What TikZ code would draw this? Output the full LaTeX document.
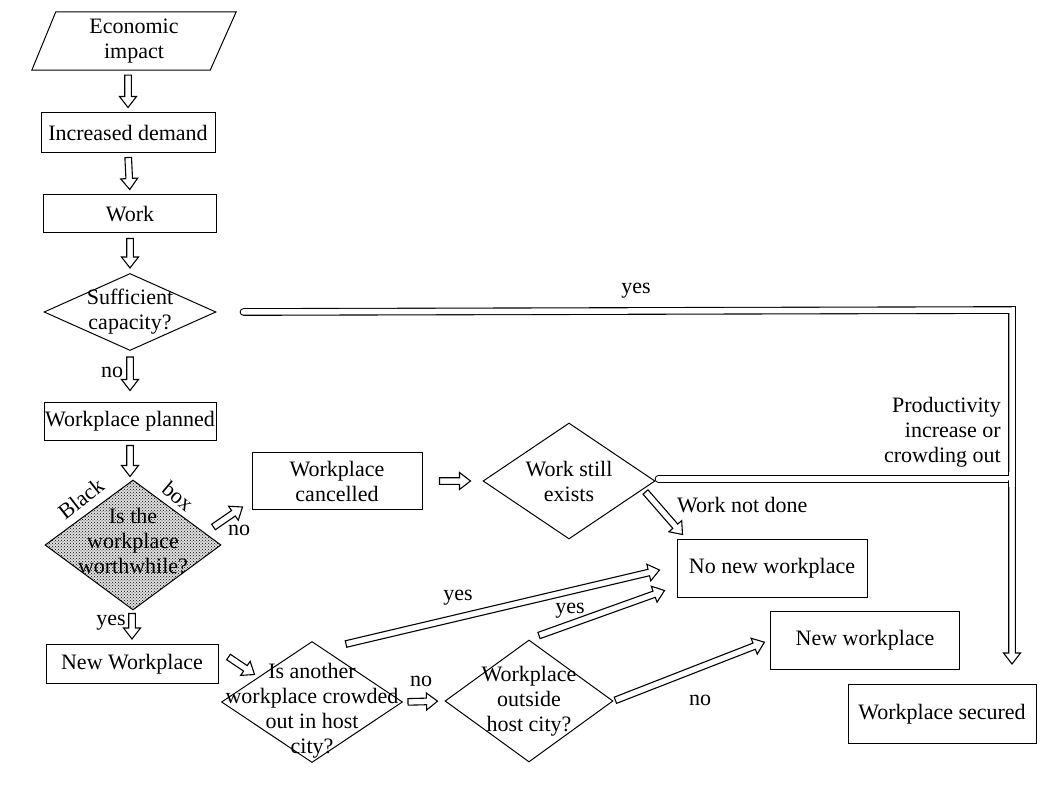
\documentclass[tikz,border=0pt]{standalone}
\usepackage{fontspec}
\setmainfont{Liberation Serif}
\usetikzlibrary{shapes.geometric,arrows.meta,patterns,calc}
\newcommand\blockarrow[2]{%
  \draw[barr] let \p1=(#1), \p2=(#2), \n1={atan2(\y2-\y1,\x2-\x1)} in
    ($(\p1)+({\n1+90}:3.3pt)$)
    -- ($(\p2)+({\n1+180}:11pt)+({\n1+90}:3.3pt)$)
    -- ($(\p2)+({\n1+180}:11pt)+({\n1+90}:8.5pt)$)
    -- (\p2)
    -- ($(\p2)+({\n1+180}:11pt)+({\n1-90}:8.5pt)$)
    -- ($(\p2)+({\n1+180}:11pt)+({\n1-90}:3.3pt)$)
    -- ($(\p1)+({\n1-90}:3.3pt)$) -- cycle;}
\begin{document}
\begin{tikzpicture}[x=1pt,y=-1pt,
  every node/.style={font=\fontsize{22}{25}\selectfont},
  box/.style={draw, line width=1pt, rectangle, inner sep=0pt, align=center},
  dia/.style={draw, line width=1pt, diamond, inner sep=0pt},
  barr/.style={draw, line width=1.1pt, fill=white, line join=miter},
  hline/.style={double, double distance=5.5pt, line width=1.1pt, line cap=round},
  lbl/.style={inner sep=1pt}
]
\useasboundingbox[fill=white] (0,0) rectangle (1054,791);
% left column
\node[minimum width=178pt, minimum height=58pt, inner sep=0pt, align=center] (econ) at (134,41) {Economic\\impact};
\draw[line width=1pt] ([xshift=11pt]econ.north west) -- ([xshift=13pt]econ.north east)
  -- ([xshift=-13pt]econ.south east) -- ([xshift=-13pt]econ.south west) -- cycle;
\node[box, minimum width=174pt, minimum height=40pt] (incr) at (128,133) {Increased demand};
\node[box, minimum width=173pt, minimum height=38pt] (work) at (130,214) {Work};
\node[dia, minimum width=172pt, minimum height=77pt,
  label={[align=center]center:Sufficient\\capacity?}] (suff) at (130,312) {};
\node[box, minimum width=172pt, minimum height=38pt] (planned) at (130,421) {Workplace planned};
\node[dia, minimum width=176pt, minimum height=130pt, preaction={fill=gray!25}, pattern=crosshatch dots,
  label={[align=center, yshift=4pt]center:Is the\\workplace\\worthwhile?}] (black) at (133,545) {};
\node[rotate=38, inner sep=0pt] (blk) at (81,499) {Black};
\node[rotate=-40, inner sep=0pt] (bx) at (178,496) {box};
\node[box, minimum width=172pt, minimum height=39pt] (newWP) at (132,664) {New Workplace};
% middle
\node[box, minimum width=170pt, minimum height=57pt] (cancel) at (337,481) {Workplace\\cancelled};
\node[dia, minimum width=172pt, minimum height=116pt,
  label={[align=center]center:Work still\\exists}] (exists) at (569,481) {};
\node[dia, minimum width=181pt, minimum height=121pt,
  label={[align=center, yshift=-9pt]center:Is another\\workplace crowded\\out in host\\city?}] (another) at (312,702) {};
\node[dia, minimum width=168pt, minimum height=122pt,
  label={[align=center]center:Workplace\\outside\\host city?}] (outside) at (529,701) {};
% right
\node[box, minimum width=190pt, minimum height=58pt] (nonew) at (772,568) {No new workplace};
\node[box, minimum width=189pt, minimum height=58pt] (newwp) at (865,640) {New workplace};
\node[box, minimum width=188pt, minimum height=59pt] (secured) at (942,714) {Workplace secured};
\coordinate (c1) at (1012,310);
\coordinate (J) at (c1 |- exists.east);
% vertical arrows
\blockarrow{$(econ.south -| incr.north)!5pt!(incr.north)$}{$(incr.north)!5pt!(econ.south -| incr.north)$}
\blockarrow{$(incr.south)!4pt!(work.north)$}{$(work.north)!5pt!(incr.south)$}
\blockarrow{$(work.south)!5pt!(suff.north)$}{$(suff.north)!5pt!(work.south)$}
\blockarrow{$(suff.south)!6pt!(planned.north)$}{$(planned.north)!11pt!(suff.south)$}
\node[lbl] (no1) at (112,372) {no};
\blockarrow{$(planned.south)!5pt!(black.north -| planned.south)$}{$(black.north -| planned.south)!3pt!(planned.south)$}
\blockarrow{$(black.south -| newWP.north)!3pt!(newWP.north)$}{$(newWP.north)!5pt!(black.south -| newWP.north)$}
\node[lbl] (yes0) at (111,623) {yes};
% other arrows
\blockarrow{$(black.east)+(-8,-18)$}{$(cancel.south west)+(-9,-3)$}
\node[lbl] (nolab1) at (239,530) {no};
\blockarrow{$(cancel.east)!17pt!(exists.west)$}{$(exists.west)!12pt!(cancel.east)$}
\blockarrow{$(exists.east)+(-10,11)$}{$(nonew.north west)+(6,-4)$}
\node[lbl, anchor=west] (wnd) at (676,505) {Work not done};
\draw[hline] ($(suff.east)+(27,0)$) -- (c1) -- (J);
\node[lbl] (yes1) at (636,291) {yes};
\draw[hline] ($(exists.east)+(3,-2)$) -- ($(J)+(0,-2)$);
\blockarrow{J}{$(c1 |- secured.north)+(0,-20)$}
\draw[white, line width=5.5pt] ($(J)+(0,-9)$) -- ($(J)+(0,6)$);
\node[lbl, align=right, anchor=east] (prod) at (1002,432) {Productivity\\increase or\\crowding out};
\blockarrow{$(newWP.east)+(10,-7)$}{$(another.north west)+(-12,3)$}
\blockarrow{$(another.north)+(34,3)$}{$(nonew.west)+(-17,2)$}
\node[lbl] (yes2) at (458,598) {yes};
\blockarrow{$(outside.north)+(10,-4)$}{$(nonew.south west)+(-12,-7)$}
\node[lbl] (yes3) at (570,611) {yes};
\blockarrow{$(another.east)!5pt!(outside.west)$}{$(outside.west)!7pt!(another.east)$}
\node[lbl] (no2) at (421,681) {no};
\blockarrow{$(outside.east)!2pt!(newwp.west)$}{$(newwp.west)!6pt!(outside.east)$}
\node[lbl] (no3) at (700,700) {no};
\end{tikzpicture}
\end{document}
